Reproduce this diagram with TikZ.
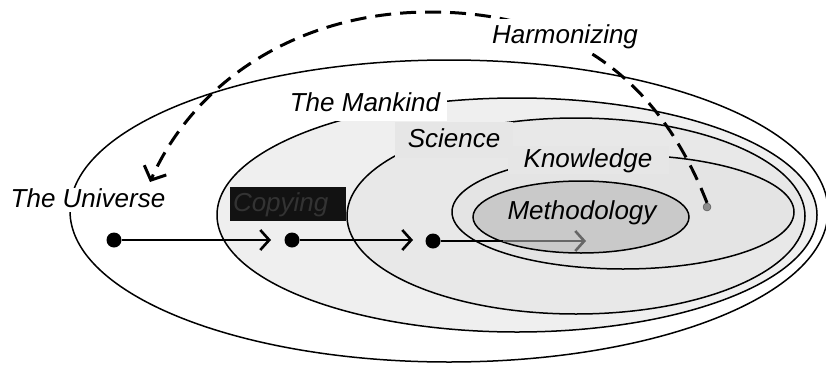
\documentclass[tikz,border=0pt]{standalone}
\usepackage{fontspec}
\setmainfont{Liberation Sans}
\usetikzlibrary{arrows.meta,positioning}
\definecolor{mankind}{HTML}{EFEFEF}
\definecolor{science}{HTML}{E8E8E8}
\definecolor{knowl}{HTML}{E4E4E4}
\definecolor{method}{HTML}{C9C9C9}
\definecolor{tagfill}{HTML}{E6E6E6}

\begin{document}
\begin{tikzpicture}[x=1pt,y=-1pt, every node/.style={font=\fontsize{26}{30}\selectfont\itshape},
 ring/.style={draw=black,line width=1.5pt},
 tag/.style={inner sep=0pt,text height=19pt,text depth=5pt},
 dot/.style={circle,fill=black,inner sep=0pt,minimum size=15pt},
 flow/.style={-{Straight Barb[length=9pt,width=20pt]},line width=2.6pt},
 harm/.style={-{Straight Barb[length=11pt,width=24pt]},line width=3pt,dash pattern=on 16pt off 9pt}]
\useasboundingbox (0,0) rectangle (826,364);
% nested spheres
\filldraw[ring,fill=white] (449,211) ellipse [x radius=379,y radius=151];
\filldraw[ring,fill=mankind] (517,215) ellipse [x radius=300,y radius=117];
\filldraw[ring,fill=science] (576,216) ellipse [x radius=229,y radius=98];
\filldraw[ring,fill=knowl] (623,212) ellipse [x radius=171,y radius=57];
\filldraw[ring,fill=method] (581,217) ellipse [x radius=108,y radius=36];
% copying chain
\node[dot] (u) at (114,240) {};
\node[dot] (m) at (292,240) {};
\node[dot] (s) at (433,241) {};
\coordinate (u1) at (271,240);
\coordinate (m1) at (413,240);
\coordinate (s1) at (503,241);
\coordinate (s2) at (586,241);
\draw[flow] (u) -- (u1);
\draw[flow] (m) -- (m1);
\draw[line width=2.6pt] (s) -- (s1);
\draw[flow,draw=black!60] (s1) -- (s2);
% harmonizing
\node[circle,draw=black!70,fill=black!45,inner sep=0pt,minimum size=8pt] (key) at (707,207) {};
\coordinate (tip) at (150,182);
\draw[harm] (key.north) .. controls (655,70) and (560,12) .. (430,12) .. controls (300,12) and (195,80) .. (tip);
% labels
\node[tag,fill=white,inner xsep=1pt] (univ) at (88,200) {The Universe};
\node[tag,fill=white,minimum width=164pt,minimum height=34pt] (mank) at (365,104) {The Mankind};
\node[tag,fill=tagfill,minimum width=118pt,minimum height=36pt] (sci) at (454,140) {Science};
\node[tag,fill=tagfill,minimum width=161pt,minimum height=28pt] (know) at (588,160) {Knowledge};
\node[tag] (meth) at (582,212) {Methodology};
\node[tag,fill=white,minimum width=162pt,minimum height=34pt] (harmo) at (565,36) {Harmonizing};
\node[tag,fill=black!93,text=black!80,text width=110pt,align=left,inner xsep=3pt,minimum height=34pt] (copy) at (288,204) {Copying};
\end{tikzpicture}
\end{document}
